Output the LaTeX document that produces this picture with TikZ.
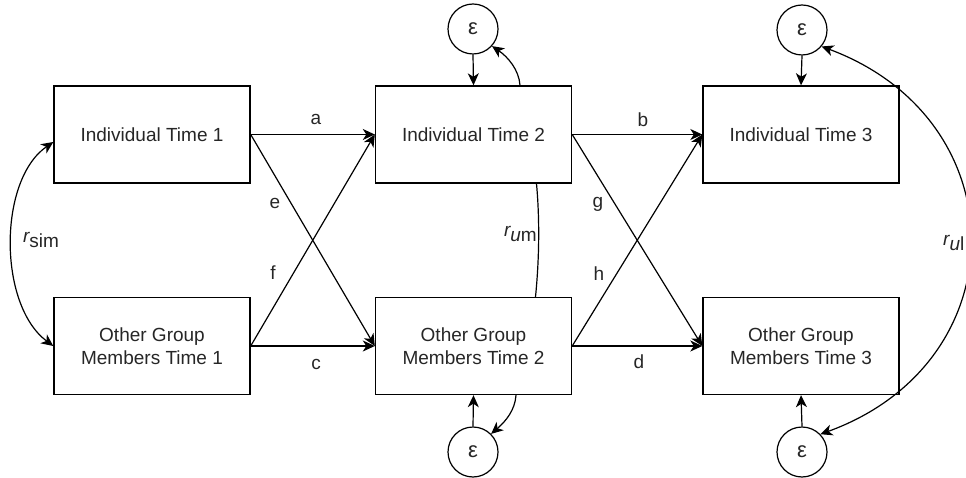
\documentclass[tikz,border=0pt]{standalone}
\usepackage{fontspec}
\setmainfont{Liberation Sans}
\usetikzlibrary{arrows.meta,calc}
\begin{document}
\begin{tikzpicture}[x=1pt,y=-1pt,
  every node/.style={font=\fontsize{19}{23}\selectfont, text=black!85},
  box/.style={draw, line width=1.4pt, minimum width=196pt, minimum height=97pt, inner sep=0pt, align=center},
  err/.style={draw, circle, line width=1.2pt, minimum size=50pt, inner sep=0pt, font=\fontsize{22}{24}\selectfont},
  arr/.style={line width=1.2pt, -{Stealth[length=12pt,width=11pt,inset=3.5pt]}},
  darr/.style={line width=1.2pt, {Stealth[length=12pt,width=11pt,inset=3.5pt]}-{Stealth[length=12pt,width=11pt,inset=3.5pt]}},
  lbl/.style={inner sep=1pt}
]
\useasboundingbox (0,0) rectangle (966,478);

% boxes
\node[box] (i1) at (152,134.5) {Individual Time 1};
\node[box] (o1) at (152,346) {Other Group\\Members Time 1};
\node[box] (i2) at (473.5,134.5) {Individual Time 2};
\node[box] (o2) at (473.5,346) {Other Group\\Members Time 2};
\node[box] (i3) at (801,134.5) {Individual Time 3};
\node[box] (o3) at (801,346) {Other Group\\Members Time 3};

% error circles
\node[err] (e2t) at (473,29) {ε};
\node[err] (e2b) at (473,452) {ε};
\node[err] (e3t) at (802,30) {ε};
\node[err] (e3b) at (802,452) {ε};

% paths time 1 -> time 2
\draw[arr] (i1.east) -- (i2.west);
\draw[arr] (i1.east) -- (o2.west);
\draw[arr] (o1.east) -- (i2.west);
\draw[arr] (o1.east) -- (o2.west);
% paths time 2 -> time 3
\draw[arr] (i2.east) -- (i3.west);
\draw[arr] (i2.east) -- (o3.west);
\draw[arr] (o2.east) -- (i3.west);
\draw[arr] (o2.east) -- (o3.west);

% path labels
\node[lbl] (la) at (316,119) {a};
\node[lbl] (lb) at (643,120) {b};
\node[lbl] (lc) at (316,364) {c};
\node[lbl] (ld) at (639,362) {d};
\node[lbl] (le) at (275,203) {e};
\node[lbl] (lf) at (273,273) {f};
\node[lbl] (lg) at (598,204) {g};
\node[lbl] (lh) at (599,274) {h};

% error arrows
\draw[arr] (e2t.south) -- (i2.north);
\draw[arr] (e2b.north) -- (o2.south);
\draw[arr] (e3t.south) -- (i3.north);
\draw[arr] (e3b.north) -- (o3.south);
\draw[arr] ([xshift=46.5pt]i2.north) .. controls (519,70) and (508,57) .. (e2t.-42);
\draw[arr] ([xshift=42.5pt]o2.south) .. controls (515,410) and (506,421) .. (e2b.45);

% correlations
\draw[darr] ([yshift=-7.5pt]i1.west) .. controls (-2,180) and (-2,305) .. (o1.west);
\node[lbl] (rsim) at (41,240) {\raisebox{5pt}{\itshape r}sim};

\draw[line width=1.2pt] ([xshift=63pt]i2.south) .. controls (540,222) and (539,262) .. ([xshift=62pt]o2.north);
\node[lbl, anchor=east] (rum) at (538,234) {\raisebox{5pt}{\itshape r}{\itshape u}m};

\draw[darr] (e3t.-40) .. controls (1019,120) and (1019,362) .. (e3b.44);
\node[lbl, anchor=west, fill=white] (rul) at (942,243) {\raisebox{5pt}{\itshape r}{\itshape u}l};
\end{tikzpicture}
\end{document}
